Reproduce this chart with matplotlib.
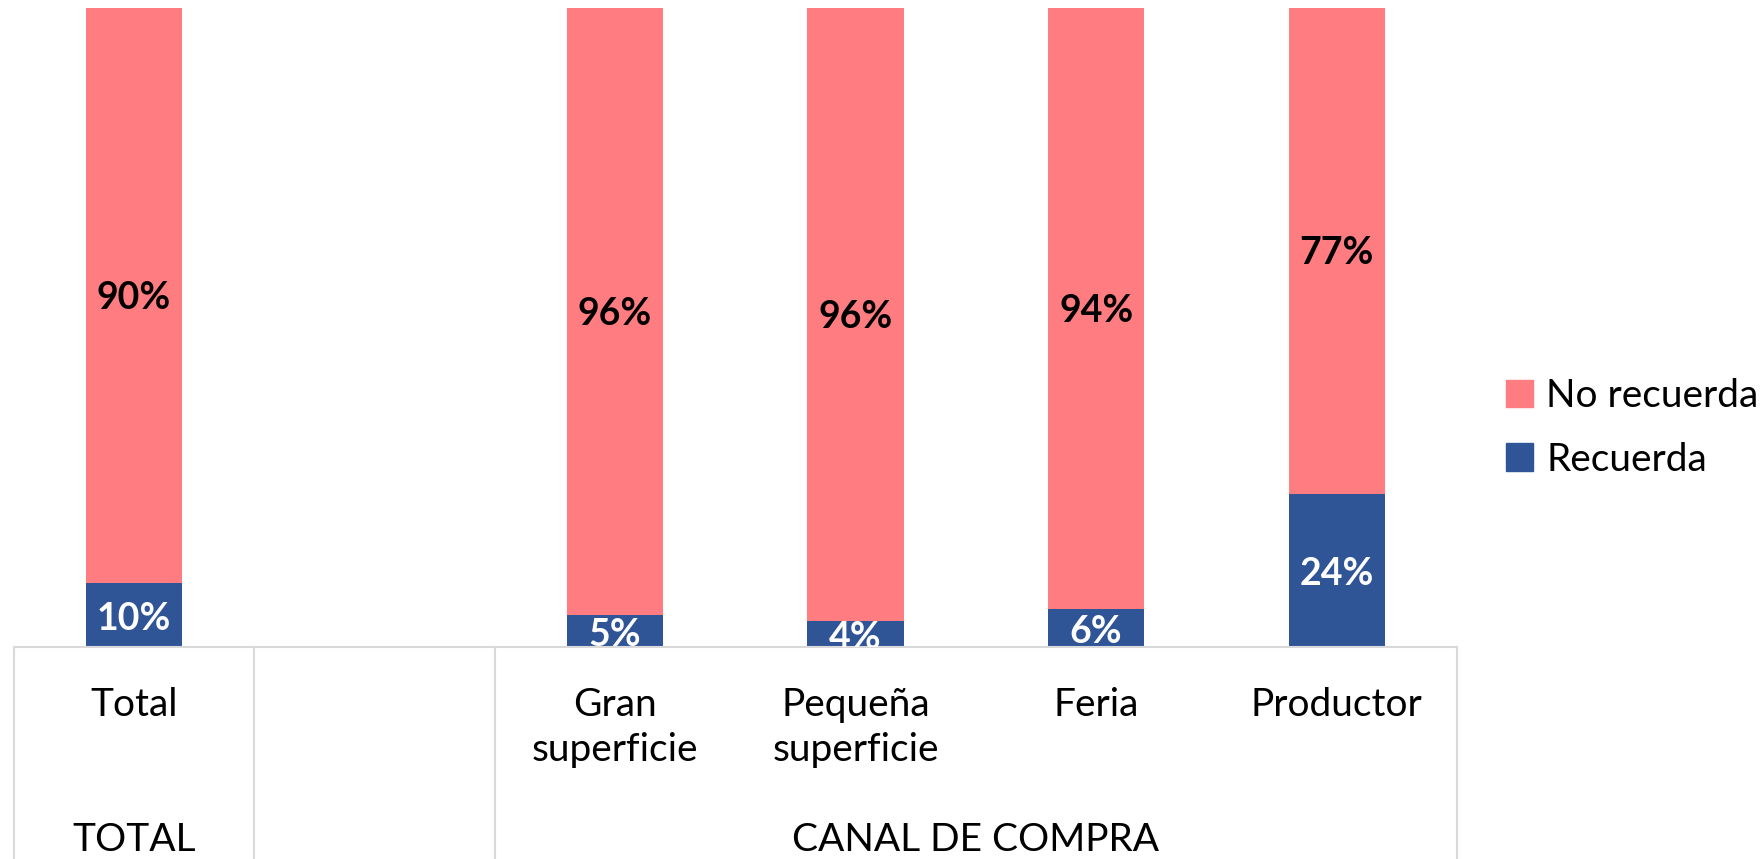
import matplotlib.pyplot as plt
from matplotlib.patches import Patch
import numpy as np

# Canal de compra - recuerda / no recuerda
categories = ["Total", "", "Gran\nsuperficie", "Pequeña\nsuperficie", "Feria", "Productor"]
recuerda = [0.10, np.nan, 0.05, 0.04, 0.06, 0.24]
no_recuerda = [0.90, np.nan, 0.96, 0.96, 0.94, 0.77]
groups = ["TOTAL", "CANAL DE COMPRA"]
group_spans = [(0, 0), (2, 5)]

c_pink = "#FF7C80"
c_blue = "#2F5597"
c_grid = "#D9D9D9"

plt.rcParams['font.family'] = ['Lato', 'DejaVu Sans']

fig = plt.figure(figsize=(17.6, 8.59), dpi=100)
ax = fig.add_axes([13.5 / 1760, 1 - 647 / 859, (1457 - 13.5) / 1760, (647 - 8) / 859])

x = np.arange(len(categories))
rec = np.array(recuerda)
norec = np.array(no_recuerda)
mask = ~np.isnan(rec)

ax.bar(x[mask], rec[mask], width=0.4, color=c_blue, label="Recuerda")
ax.bar(x[mask], norec[mask], width=0.4, bottom=rec[mask], color=c_pink, label="No recuerda")

for xi, r, n in zip(x[mask], rec[mask], norec[mask]):
    ax.text(xi, r / 2 - 0.006, f"{r * 100:.0f}%", ha="center", va="center", color="white",
            fontsize=27, fontweight="bold", clip_on=True)
    top = min(r + n, 1.0)
    ax.text(xi, (r + top) / 2 - 0.004, f"{n * 100:.0f}%",
            ha="center", va="center", color="black", fontsize=27, fontweight="bold", clip_on=True)

ax.set_xlim(-0.5, len(categories) - 0.5)
ax.set_ylim(0, 1.0)
ax.set_xticks([])
ax.set_yticks([])
for s in ["top", "right", "left", "bottom"]:
    ax.spines[s].set_visible(False)

# table-like category axis below the bars
tr = ax.get_xaxis_transform()
ax.plot([-0.5, len(categories) - 0.5], [0, 0], color=c_grid, lw=1.5, transform=tr, clip_on=False)
for xv in [-0.5, 0.5, 1.5, len(categories) - 0.5]:
    ax.plot([xv, xv], [0, -0.4], color=c_grid, lw=1.5, transform=tr, clip_on=False)

for xi, lab in zip(x, categories):
    if lab:
        ax.text(xi, -0.062, lab, ha="center", va="top", fontsize=28, transform=tr,
                linespacing=1.33)

for g, (a, b) in zip(groups, group_spans):
    ax.text((a + b) / 2, -0.302, g, ha="center", va="center", fontsize=28, transform=tr)

handles = [Patch(color=c_pink, label="No recuerda"), Patch(color=c_blue, label="Recuerda")]
fig.legend(handles=handles, loc="center left", bbox_to_anchor=(1490 / 1760, 1 - 428 / 859),
           frameon=False, fontsize=28, handlelength=0.7, handleheight=0.7,
           handletextpad=0.35, labelspacing=0.7, borderaxespad=0)

fig.savefig("out.png", dpi=100)
